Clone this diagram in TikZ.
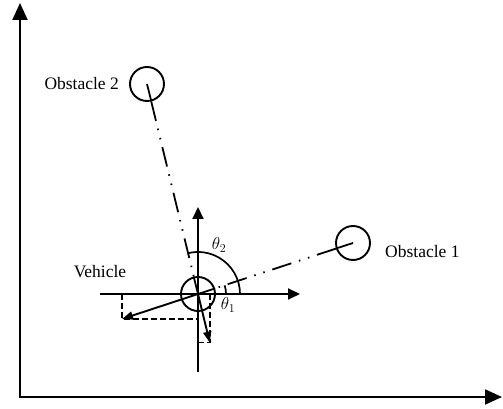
\documentclass[tikz,border=0pt]{standalone}
\usepackage{fontspec}
\setmainfont{Liberation Serif}
\usepackage{tikz}
\usetikzlibrary{arrows.meta,positioning,calc}
\tikzset{
  body/.style={draw=black, circle, line width=1.9pt, minimum size=34pt, inner sep=0pt},
  lbl/.style={inner sep=0pt, font=\fontsize{17.5}{20}\selectfont},
  anglbl/.style={inner sep=0pt, font=\fontsize{17}{19}\selectfont},
  axis/.style={{Triangle[length=17pt,width=15pt]}-{Triangle[length=17pt,width=15pt]}, line width=2pt},
  laxis/.style={-{Triangle[length=12pt,width=11pt]}, line width=1.9pt},
  force/.style={-{Triangle[length=11pt,width=8pt]}, line width=1.9pt},
  proj/.style={dashed, dash pattern=on 6pt off 3pt, line width=1.6pt},
  sightline/.style={line width=1.8pt, dash pattern=on 20pt off 8pt on 1.5pt off 8pt on 1.5pt off 8pt},
  angarc/.style={line width=1.7pt}
}
\begin{document}
\begin{tikzpicture}[x=1pt, y=1pt]
\useasboundingbox (0,0) rectangle (503,409);
% global frame
\coordinate (O) at (20,12);
\coordinate (ytop) at (20,406);
\coordinate (xend) at (502,12);
\draw[axis] (ytop) -- (O) -- (xend);
% vehicle and obstacles
\node[body] (veh) at (198,115) {};
\node[body] (obs1) at (353,166) {};
\node[body] (obs2) at (147,325) {};
\node[lbl, left=10pt of obs2] (lobs2) {Obstacle 2};
\node[lbl, anchor=west] (lobs1) at (385,157) {Obstacle 1};
\node[lbl] (lveh) at (100,137) {Vehicle};
% local axes
\coordinate (lx0) at (100,115);
\coordinate (lx1) at (300,115);
\coordinate (ly0) at (198,37);
\coordinate (ly1) at (198,202);
\draw[laxis] (lx0) -- (lx1);
\draw[laxis] (ly0) -- (ly1);
% lines of sight
\draw[line width=1.8pt] (obs2.center) -- (obs2.-76);
\draw[line width=1.8pt] (obs1.center) -- (obs1.198);
\draw[sightline] (obs2) -- (veh);
\draw[sightline] (obs1) -- (veh);
\draw[line width=1.8pt] (veh.104) -- (veh.center);
\draw[line width=1.8pt] (veh.18) -- (veh.center);
% repulsive forces
\coordinate (f1) at (122,90);
\coordinate (f2) at (209.8,66.4);
\draw[proj] (f1 |- veh.center) -- (f1) -- (f1 -| veh.center);
\draw[proj] (f2 |- veh.center) -- (f2) -- (f2 -| veh.center);
\draw[force] (veh.center) -- (f1);
\draw[force] (veh.center) -- (f2);
% angles
\draw[angarc] ($(veh.center)+(42,0)$) arc[start angle=0, end angle=104, radius=42];
\draw[angarc] ($(veh.center)+(28,0)$) arc[start angle=0, end angle=18, radius=28];
\node[anglbl] (th2) at (219,164) {$\theta_2$};
\node[anglbl] (th1) at (228,104) {$\theta_1$};
\end{tikzpicture}
\end{document}
